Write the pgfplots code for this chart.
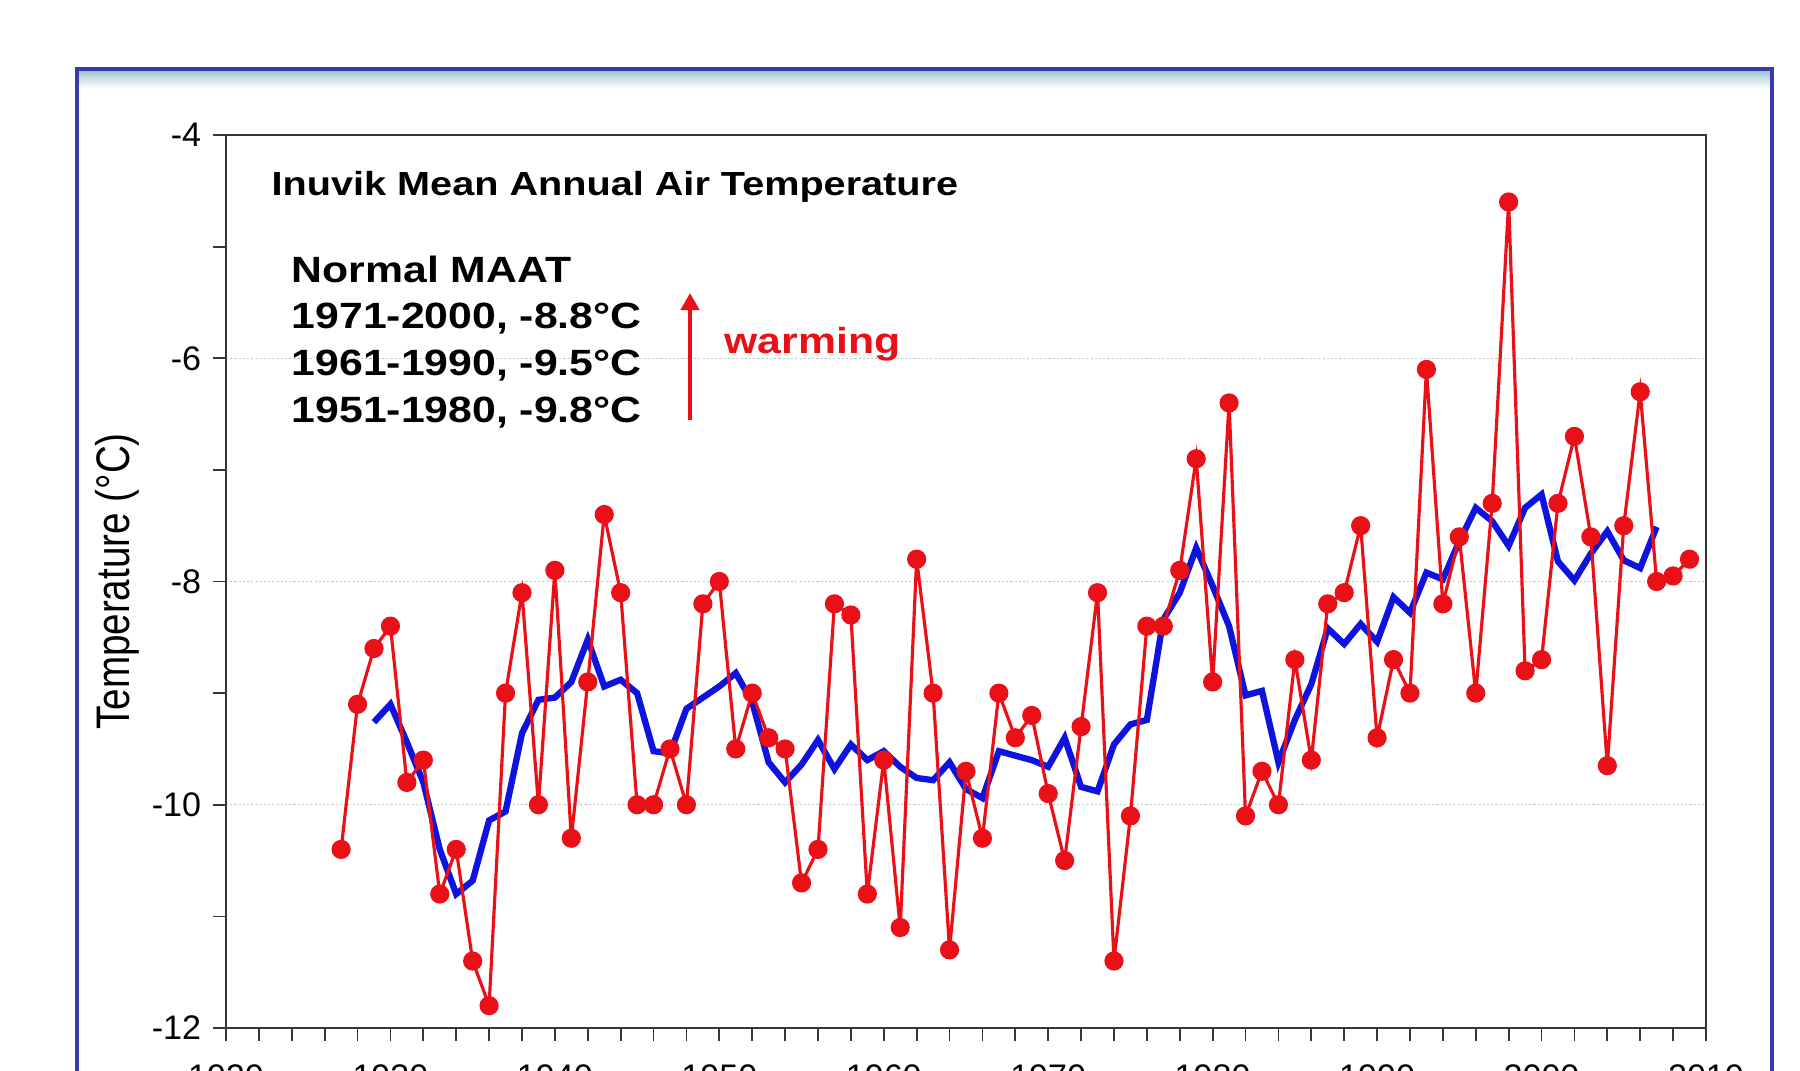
\documentclass[border=0pt]{standalone}
\usepackage{fontspec}
\setmainfont{Liberation Sans}
\usepackage{graphicx}
\usepackage{pgfplots}
\pgfplotsset{compat=1.18}
\usetikzlibrary{arrows.meta}

\definecolor{frameblue}{RGB}{58,56,170}
\definecolor{bandteal}{RGB}{146,192,194}
\definecolor{datared}{RGB}{234,16,24}
\definecolor{meanblue}{RGB}{14,20,222}
\definecolor{axisgray}{RGB}{55,55,55}

\begin{document}
\begin{tikzpicture}
\useasboundingbox (0,0) rectangle (180mm,107mm);
\clip (0,0) rectangle (180mm,107mm);
\fill[white] (0,0) rectangle (180mm,107mm);
% slide frame with its shaded header strip
\shade[top color=bandteal, bottom color=white, middle color=bandteal!45] (7.7mm,100.1mm) rectangle (177.2mm,98.1mm);
\draw[frameblue, line width=0.35mm] (7.7mm,-5mm) -- (7.7mm,100.1mm) -- (177.2mm,100.1mm) -- (177.2mm,-5mm);

\begin{axis}[
  at={(22.6mm,4.2mm)}, anchor=south west,
  scale only axis, width=148mm, height=89.3mm,
  xmin=1920, xmax=2010, ymin=-12, ymax=-4,
  xtick={1920,1930,...,2010}, minor x tick num=4,
  ytick={-12,-10,...,-4}, minor y tick num=1,
  tick align=outside, tick pos=left,
  major tick length=1.25mm, minor tick length=1.25mm,
  every tick/.style={axisgray, line width=0.5pt},
  axis line style={axisgray, line width=0.8pt},
  ymajorgrids,
  major grid style={gray!45, line width=0.4pt, dash pattern=on 0.6pt off 0.6pt},
  tick label style={font=\fontsize{9.7}{11}\selectfont},
  /pgf/number format/assume math mode=true,
  /pgf/number format/1000 sep={},
  xticklabel style={yshift=-1.2mm},
  ylabel={\scalebox{0.82}[1]{Temperature (°C)}},
  ylabel style={font=\fontsize{13.4}{16}\selectfont, at={(axis description cs:-0.0736,0.5)}, anchor=center},
]
% five-year centred running mean
\addplot[meanblue, line width=1.8pt, no marks] coordinates {
(1929,-9.26) (1930,-9.10) (1931,-9.44) (1932,-9.80) (1933,-10.40) (1934,-10.80)
(1935,-10.68) (1936,-10.14) (1937,-10.06) (1938,-9.36) (1939,-9.06) (1940,-9.04)
(1941,-8.90) (1942,-8.52) (1943,-8.94) (1944,-8.88) (1945,-9.00) (1946,-9.52)
(1947,-9.54) (1948,-9.14) (1949,-9.04) (1950,-8.94) (1951,-8.82) (1952,-9.08)
(1953,-9.62) (1954,-9.80) (1955,-9.64) (1956,-9.42) (1957,-9.68) (1958,-9.46)
(1959,-9.60) (1960,-9.52) (1961,-9.66) (1962,-9.76) (1963,-9.78) (1964,-9.62)
(1965,-9.86) (1966,-9.94) (1967,-9.52) (1968,-9.56) (1969,-9.60) (1970,-9.66)
(1971,-9.40) (1972,-9.84) (1973,-9.88) (1974,-9.46) (1975,-9.28) (1976,-9.24)
(1977,-8.34) (1978,-8.10) (1979,-7.70) (1980,-8.04) (1981,-8.40) (1982,-9.02)
(1983,-8.98) (1984,-9.62) (1985,-9.24) (1986,-8.92) (1987,-8.42) (1988,-8.56)
(1989,-8.38) (1990,-8.54) (1991,-8.14) (1992,-8.28) (1993,-7.92) (1994,-7.98)
(1995,-7.64) (1996,-7.34) (1997,-7.46) (1998,-7.68) (1999,-7.34) (2000,-7.22)
(2001,-7.82) (2002,-7.99) (2003,-7.75) (2004,-7.55) (2005,-7.81) (2006,-7.88)
(2007,-7.51)
};
% annual means
\addplot[datared, line width=0.9pt, mark=*, mark size=0.8mm,
  mark options={fill=datared, draw=datared}] coordinates {
(1927,-10.4) (1928,-9.1) (1929,-8.6) (1930,-8.4) (1931,-9.8) (1932,-9.6)
(1933,-10.8) (1934,-10.4) (1935,-11.4) (1936,-11.8) (1937,-9.0) (1938,-8.1)
(1939,-10.0) (1940,-7.9) (1941,-10.3) (1942,-8.9) (1943,-7.4) (1944,-8.1)
(1945,-10.0) (1946,-10.0) (1947,-9.5) (1948,-10.0) (1949,-8.2) (1950,-8.0)
(1951,-9.5) (1952,-9.0) (1953,-9.4) (1954,-9.5) (1955,-10.7) (1956,-10.4)
(1957,-8.2) (1958,-8.3) (1959,-10.8) (1960,-9.6) (1961,-11.1) (1962,-7.8)
(1963,-9.0) (1964,-11.3) (1965,-9.7) (1966,-10.3) (1967,-9.0) (1968,-9.4)
(1969,-9.2) (1970,-9.9) (1971,-10.5) (1972,-9.3) (1973,-8.1) (1974,-11.4)
(1975,-10.1) (1976,-8.4) (1977,-8.4) (1978,-7.9) (1979,-6.9) (1980,-8.9)
(1981,-6.4) (1982,-10.1) (1983,-9.7) (1984,-10.0) (1985,-8.7) (1986,-9.6)
(1987,-8.2) (1988,-8.1) (1989,-7.5) (1990,-9.4) (1991,-8.7) (1992,-9.0)
(1993,-6.1) (1994,-8.2) (1995,-7.6) (1996,-9.0) (1997,-7.3) (1998,-4.6)
(1999,-8.8) (2000,-8.7) (2001,-7.3) (2002,-6.7) (2003,-7.6) (2004,-9.65)
(2005,-7.5) (2006,-6.3) (2007,-8.0) (2008,-7.95) (2009,-7.8)
};
\end{axis}

% annotation block
\begin{scope}[x=0.1mm, y=-0.1mm, shift={(0mm,107mm)}]
\node[anchor=base west, inner sep=0, font=\fontsize{9.5}{11}\selectfont\bfseries]
  at (271,195) {\scalebox{1.187}[1]{Inuvik Mean Annual Air Temperature}};
\node[anchor=base west, inner sep=0, font=\fontsize{10.4}{12}\selectfont\bfseries]
  at (291,282) {\scalebox{1.17}[1]{Normal MAAT}};
\node[anchor=base west, inner sep=0, font=\fontsize{10.4}{12}\selectfont\bfseries]
  at (291,328) {\scalebox{1.17}[1]{1971-2000, -8.8°C}};
\node[anchor=base west, inner sep=0, font=\fontsize{10.4}{12}\selectfont\bfseries]
  at (291,375) {\scalebox{1.17}[1]{1961-1990, -9.5°C}};
\node[anchor=base west, inner sep=0, font=\fontsize{10.4}{12}\selectfont\bfseries]
  at (291,422) {\scalebox{1.17}[1]{1951-1980, -9.8°C}};
\draw[datared, line width=0.45mm, -{Triangle[width=1.8mm,length=1.7mm]}]
  (690,420) -- (690,293);
\node[anchor=base west, inner sep=0, text=datared, font=\fontsize{10.3}{12}\selectfont\bfseries]
  at (724,353) {\scalebox{1.18}[1]{warming}};
\end{scope}
\end{tikzpicture}
\end{document}
